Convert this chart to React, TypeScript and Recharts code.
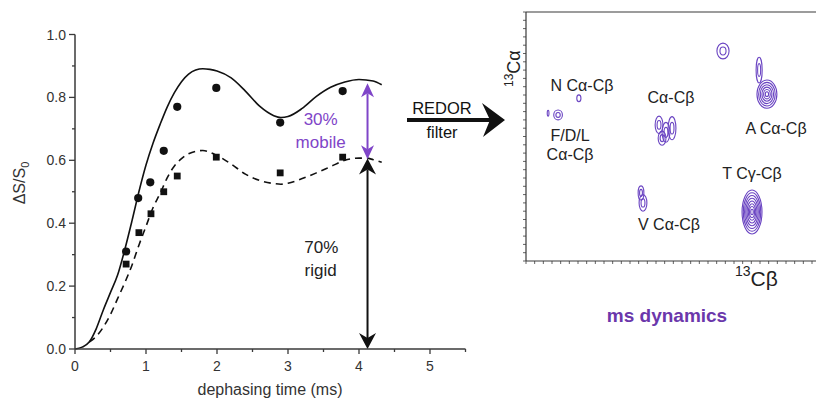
import React from 'react';
import {
  ComposedChart,
  ScatterChart,
  Line,
  Scatter,
  XAxis,
  YAxis,
  ReferenceLine,
  ReferenceDot,
} from 'recharts';

const FONT = "'Liberation Sans', Arial, Helvetica, sans-serif";
const AXIS = '#3a3a3a';
const TEXT = '#222';
const PURPLE = '#7f45c8';
const DEEP_PURPLE = '#6b37ab';
const CONTOUR = '#6a44c2';

// ---------- REDOR build-up data (dephasing time in ms, ΔS/S0) ----------
const solidFit = [
  { x: 0, y: 0 }, { x: 0.1, y: 0.006 }, { x: 0.2, y: 0.022 }, { x: 0.3, y: 0.065 },
  { x: 0.4, y: 0.125 }, { x: 0.5, y: 0.18 }, { x: 0.6, y: 0.235 }, { x: 0.7, y: 0.315 },
  { x: 0.8, y: 0.405 }, { x: 0.9, y: 0.5 }, { x: 1.0, y: 0.585 }, { x: 1.1, y: 0.655 },
  { x: 1.2, y: 0.715 }, { x: 1.3, y: 0.77 }, { x: 1.4, y: 0.815 }, { x: 1.5, y: 0.85 },
  { x: 1.6, y: 0.874 }, { x: 1.7, y: 0.887 }, { x: 1.8, y: 0.891 }, { x: 1.9, y: 0.889 },
  { x: 2.0, y: 0.884 }, { x: 2.2, y: 0.862 }, { x: 2.4, y: 0.82 }, { x: 2.6, y: 0.772 },
  { x: 2.8, y: 0.742 }, { x: 2.9, y: 0.736 }, { x: 3.0, y: 0.739 }, { x: 3.2, y: 0.765 },
  { x: 3.4, y: 0.803 }, { x: 3.6, y: 0.832 }, { x: 3.8, y: 0.849 }, { x: 4.0, y: 0.857 },
  { x: 4.2, y: 0.852 }, { x: 4.32, y: 0.84 },
];

const dashedFit = [
  { x: 0.2, y: 0.022 }, { x: 0.3, y: 0.04 }, { x: 0.4, y: 0.07 }, { x: 0.5, y: 0.11 },
  { x: 0.6, y: 0.16 }, { x: 0.7, y: 0.21 }, { x: 0.8, y: 0.265 }, { x: 0.9, y: 0.33 },
  { x: 1.0, y: 0.39 }, { x: 1.1, y: 0.45 }, { x: 1.2, y: 0.495 }, { x: 1.3, y: 0.545 },
  { x: 1.4, y: 0.582 }, { x: 1.5, y: 0.605 }, { x: 1.6, y: 0.621 }, { x: 1.8, y: 0.631 },
  { x: 2.0, y: 0.615 }, { x: 2.2, y: 0.588 }, { x: 2.4, y: 0.556 }, { x: 2.6, y: 0.536 },
  { x: 2.8, y: 0.526 }, { x: 2.9, y: 0.524 }, { x: 3.0, y: 0.527 }, { x: 3.2, y: 0.542 },
  { x: 3.4, y: 0.56 }, { x: 3.6, y: 0.58 }, { x: 3.8, y: 0.6 }, { x: 4.0, y: 0.607 },
  { x: 4.1, y: 0.607 }, { x: 4.2, y: 0.602 }, { x: 4.32, y: 0.594 },
];

const allSites = [
  { x: 0.72, y: 0.31 }, { x: 0.89, y: 0.48 }, { x: 1.06, y: 0.53 }, { x: 1.25, y: 0.63 },
  { x: 1.44, y: 0.77 }, { x: 1.99, y: 0.83 }, { x: 2.89, y: 0.72 }, { x: 3.77, y: 0.82 },
];

const rigidSites = [
  { x: 0.72, y: 0.27 }, { x: 0.9, y: 0.37 }, { x: 1.07, y: 0.43 }, { x: 1.25, y: 0.5 },
  { x: 1.44, y: 0.55 }, { x: 1.99, y: 0.61 }, { x: 2.89, y: 0.56 }, { x: 3.77, y: 0.61 },
];

const X_TICKS = [0, 0.5, 1, 1.5, 2, 2.5, 3, 3.5, 4, 4.5, 5, 5.5];
const X_LABELS = [0, 1, 2, 3, 4, 5];
const Y_TICKS = [0, 0.1, 0.2, 0.3, 0.4, 0.5, 0.6, 0.7, 0.8, 0.9, 1.0];
const Y_LABELS = [0, 0.2, 0.4, 0.6, 0.8, 1.0];

const arrows = [
  { x: 4.12, from: 0.603, to: 0.845, kind: 'mobile' },
  { x: 4.12, from: 0.0, to: 0.606, kind: 'rigid' },
];

const notes = [
  { x: 3.46, y: 0.73, text: '30%', kind: 'mobile' },
  { x: 3.46, y: 0.657, text: 'mobile', kind: 'mobile' },
  { x: 3.47, y: 0.324, text: '70%', kind: 'rigid' },
  { x: 3.46, y: 0.25, text: 'rigid', kind: 'rigid' },
];

// ---------- 2D spectrum (arbitrary chemical-shift units) ----------
const NMR_X_TICKS = Array.from({ length: 37 }, (_, i) => i);
const NMR_Y_TICKS = Array.from({ length: 31 }, (_, i) => i);

const nmrPeaks = [
  { x: 22.73, y: 25.3, w: 0.7, h: 0.95, levels: 2 },
  { x: 27.8, y: 20.1, w: 1.15, h: 1.7, levels: 6 },
  { x: 26.9, y: 23.0, w: 0.35, h: 1.55, levels: 2 },
  { x: 6.1, y: 19.6, w: 0.24, h: 0.42, levels: 1 },
  { x: 3.7, y: 17.6, w: 0.5, h: 0.6, levels: 2 },
  { x: 2.55, y: 17.8, w: 0.1, h: 0.35, levels: 1 },
  { x: 15.35, y: 16.4, w: 0.45, h: 1.05, levels: 2 },
  { x: 16.15, y: 15.5, w: 0.45, h: 1.2, levels: 2 },
  { x: 16.85, y: 16.0, w: 0.45, h: 1.4, levels: 2 },
  { x: 15.7, y: 14.8, w: 0.45, h: 0.85, levels: 2 },
  { x: 13.27, y: 8.2, w: 0.33, h: 0.85, levels: 2 },
  { x: 13.5, y: 7.0, w: 0.45, h: 1.0, levels: 2 },
  { x: 26.08, y: 5.9, w: 1.15, h: 2.65, levels: 8 },
];

const nmrLabels = [
  { x: 6.46, y: 21.2, text: 'N Cα-Cβ' },
  { x: 5.08, y: 15.18, text: 'F/D/L' },
  { x: 5.08, y: 12.89, text: 'Cα-Cβ' },
  { x: 16.73, y: 19.64, text: 'Cα-Cβ' },
  { x: 28.85, y: 16.02, text: 'A Cα-Cβ' },
  { x: 26.08, y: 10.6, text: 'T Cγ-Cβ' },
  { x: 16.5, y: 4.34, text: 'V Cα-Cβ' },
];

// ---------- layout ----------
const MAIN_W = 480;
const MAIN_H = 399;
const MAIN_MARGIN = { top: 34.5, right: 14.5, bottom: 0, left: 0 };

const NMR_W = 850;
const NMR_H = 300;
const NMR_MARGIN = { top: 0, right: 12, bottom: 0, left: 496 };
const NMR_YAXIS_W = 30;
const NMR_TOP_H = 12;
const NMR_BOTTOM_H = 39;
const NMR_X_DOMAIN = [0, 36];
const NMR_Y_DOMAIN = [0, 30];
const PX_X =
  (NMR_W - NMR_MARGIN.left - NMR_MARGIN.right - NMR_YAXIS_W) / (NMR_X_DOMAIN[1] - NMR_X_DOMAIN[0]);
const PX_Y = (NMR_H - NMR_TOP_H - NMR_BOTTOM_H) / (NMR_Y_DOMAIN[1] - NMR_Y_DOMAIN[0]);

// ---------- renderers ----------
const MainXTick = (props: any) => {
  const { x, y, payload } = props;
  const v = payload.value;
  const major = X_LABELS.some((m) => Math.abs(m - v) < 1e-9);
  return (
    <g>
      <line x1={x} y1={y} x2={x} y2={y + (major ? 5 : 3)} stroke={AXIS} strokeWidth={1.3} />
      {major && (
        <text x={x} y={y + 22} textAnchor="middle" fontSize={14} fill="#333" fontFamily={FONT}>
          {v}
        </text>
      )}
    </g>
  );
};

const MainYTick = (props: any) => {
  const { x, y, payload } = props;
  const v = payload.value;
  const major = Y_LABELS.some((m) => Math.abs(m - v) < 1e-9);
  return (
    <g>
      <line x1={x - (major ? 6 : 3)} y1={y} x2={x} y2={y} stroke={AXIS} strokeWidth={1.3} />
      {major && (
        <text x={x - 9} y={y + 5} textAnchor="end" fontSize={14} fill="#333" fontFamily={FONT}>
          {v.toFixed(1)}
        </text>
      )}
    </g>
  );
};

const headPoints = (tx: number, ty: number, dir: number, L: number, W: number, N: number) => {
  // dir = +1 pointing down, -1 pointing up
  const by = ty - dir * L;
  const ny = ty - dir * (L - N);
  return `${tx},${ty} ${tx - W},${by} ${tx},${ny} ${tx + W},${by}`;
};

const makeArrowShape = (kind: string) => (p: any) => {
  const { x1, y1, x2, y2 } = p;
  const color = kind === 'mobile' ? PURPLE : '#111';
  const L = kind === 'mobile' ? 14 : 16;
  const W = kind === 'mobile' ? 6.5 : 8.5;
  const N = kind === 'mobile' ? 4 : 5;
  const top = Math.min(y1, y2);
  const bot = Math.max(y1, y2);
  const x = x1;
  return (
    <g>
      <line x1={x} y1={top + L - N} x2={x2} y2={bot - (L - N)} stroke={color} strokeWidth={2} />
      <polygon points={headPoints(x, top, -1, L, W, N)} fill={color} />
      <polygon points={headPoints(x, bot, 1, L, W, N)} fill={color} />
    </g>
  );
};

const Contour = (props: any) => {
  const { cx, cy, payload } = props;
  if (cx == null || cy == null) return <g />;
  const rx = payload.w * PX_X;
  const ry = payload.h * PX_Y;
  const n = payload.levels;
  return (
    <g>
      {Array.from({ length: n }, (_, i) => {
        const k = (n - i) / n;
        return (
          <ellipse
            key={i}
            cx={cx}
            cy={cy}
            rx={Math.max(rx * k, 0.8)}
            ry={Math.max(ry * k, 1)}
            fill="none"
            stroke={CONTOUR}
            strokeWidth={1.1}
          />
        );
      })}
    </g>
  );
};

const BoxTick = (orient: 'bottom' | 'top' | 'left') => (props: any) => {
  const { x, y } = props;
  if (orient === 'bottom') return <line x1={x} y1={y} x2={x} y2={y + 3} stroke={AXIS} strokeWidth={0.8} />;
  if (orient === 'top') return <line x1={x} y1={y} x2={x} y2={y + 2.5} stroke={AXIS} strokeWidth={0.8} />;
  return <line x1={x - 3} y1={y} x2={x} y2={y} stroke={AXIS} strokeWidth={0.8} />;
};

export default function App() {
  return (
    <div
      style={{
        position: 'absolute',
        left: 0,
        top: 0,
        width: 816,
        height: 399,
        overflow: 'hidden',
        background: '#fff',
        fontFamily: FONT,
      }}
    >
      <div style={{ position: 'absolute', left: 0, top: 0 }}>
        <ComposedChart width={MAIN_W} height={MAIN_H} margin={MAIN_MARGIN}>
          <XAxis
            type="number"
            dataKey="x"
            domain={[0, 5.5]}
            ticks={X_TICKS}
            interval={0}
            tickSize={0}
            tickMargin={0}
            tickLine={false}
            tick={MainXTick}
            axisLine={{ stroke: AXIS, strokeWidth: 1.5 }}
            height={50}
          />
          <YAxis
            type="number"
            dataKey="y"
            domain={[0, 1]}
            ticks={Y_TICKS}
            interval={0}
            tickSize={0}
            tickMargin={0}
            tickLine={false}
            tick={MainYTick}
            axisLine={{ stroke: AXIS, strokeWidth: 1.5 }}
            width={75}
          />
          <Line
            data={solidFit}
            dataKey="y"
            type="monotone"
            stroke="#111"
            strokeWidth={1.6}
            dot={false}
            activeDot={false}
            isAnimationActive={false}
          />
          <Line
            data={dashedFit}
            dataKey="y"
            type="monotone"
            stroke="#111"
            strokeWidth={1.6}
            strokeDasharray="7 5"
            dot={false}
            activeDot={false}
            isAnimationActive={false}
          />
          <Scatter
            data={allSites}
            dataKey="y"
            isAnimationActive={false}
            shape={(p: any) => <circle cx={p.cx} cy={p.cy} r={4.1} fill="#111" />}
          />
          <Scatter
            data={rigidSites}
            dataKey="y"
            isAnimationActive={false}
            shape={(p: any) => <rect x={p.cx - 3.4} y={p.cy - 3.4} width={6.8} height={6.8} fill="#111" />}
          />
          {arrows.map((a, i) => (
            <ReferenceLine
              key={'ar' + i}
              segment={[
                { x: a.x, y: a.from },
                { x: a.x, y: a.to },
              ]}
              ifOverflow="visible"
              shape={makeArrowShape(a.kind)}
            />
          ))}
          {notes.map((n, i) => (
            <ReferenceDot
              key={'nt' + i}
              x={n.x}
              y={n.y}
              r={0}
              ifOverflow="visible"
              shape={(p: any) => (
                <text
                  x={p.cx}
                  y={p.cy}
                  textAnchor="middle"
                  dominantBaseline="central"
                  fontSize={17}
                  fill={n.kind === 'mobile' ? PURPLE : '#222'}
                  fontFamily={FONT}
                >
                  {n.text}
                </text>
              )}
            />
          ))}
        </ComposedChart>
      </div>

      <div style={{ position: 'absolute', left: 0, top: 0 }}>
        <ScatterChart width={NMR_W} height={NMR_H} margin={NMR_MARGIN}>
          <XAxis
            xAxisId="b"
            type="number"
            dataKey="x"
            orientation="bottom"
            domain={NMR_X_DOMAIN}
            ticks={NMR_X_TICKS}
            interval={0}
            tickSize={0}
            tickMargin={0}
            tickLine={false}
            tick={BoxTick('bottom')}
            axisLine={{ stroke: AXIS, strokeWidth: 1.2 }}
            height={NMR_BOTTOM_H}
          />
          <XAxis
            xAxisId="t"
            type="number"
            orientation="top"
            domain={NMR_X_DOMAIN}
            ticks={NMR_X_TICKS}
            interval={0}
            tickSize={0}
            tickMargin={0}
            tickLine={false}
            tick={BoxTick('top')}
            axisLine={{ stroke: AXIS, strokeWidth: 1.2 }}
            height={NMR_TOP_H}
          />
          <YAxis
            yAxisId="l"
            type="number"
            dataKey="y"
            domain={NMR_Y_DOMAIN}
            ticks={NMR_Y_TICKS}
            interval={0}
            tickSize={0}
            tickMargin={0}
            tickLine={false}
            tick={BoxTick('left')}
            axisLine={{ stroke: AXIS, strokeWidth: 1.2 }}
            width={NMR_YAXIS_W}
          />
          <Scatter
            xAxisId="b"
            yAxisId="l"
            data={nmrPeaks}
            dataKey="y"
            isAnimationActive={false}
            shape={Contour}
          />
          {nmrLabels.map((l, i) => (
            <ReferenceDot
              key={'nl' + i}
              xAxisId="b"
              yAxisId="l"
              x={l.x}
              y={l.y}
              r={0}
              ifOverflow="visible"
              shape={(p: any) => (
                <text
                  x={p.cx}
                  y={p.cy}
                  textAnchor="middle"
                  dominantBaseline="central"
                  fontSize={16}
                  fill={TEXT}
                  fontFamily={FONT}
                >
                  {l.text}
                </text>
              )}
            />
          ))}
        </ScatterChart>
      </div>

      <svg
        width={816}
        height={399}
        style={{ position: 'absolute', left: 0, top: 0, pointerEvents: 'none' }}
        fontFamily={FONT}
      >
        <text x={25} y={183} transform="rotate(-90 25 183)" textAnchor="middle" fontSize={16} fill="#333">
          ΔS/S
          <tspan fontSize={11} dy={4}>
            0
          </tspan>
        </text>
        <text x={270} y={395} textAnchor="middle" fontSize={16} fill="#333">
          dephasing time (ms)
        </text>

        <text x={442} y={114} textAnchor="middle" fontSize={16.5} fill="#111">
          REDOR
        </text>
        <text x={442} y={138} textAnchor="middle" fontSize={16.5} fill="#111">
          filter
        </text>
        <line x1={407} y1={120} x2={490} y2={120} stroke="#111" strokeWidth={4} />
        <polygon points="505,120 482,103 490,120 483,137" fill="#111" />

        <text transform="translate(520 87) rotate(-90)" fontSize={18} fill="#222">
          <tspan fontSize={12} dy={-7}>
            13
          </tspan>
          <tspan dy={7}>Cα</tspan>
        </text>
        <text x={735} y={286} fontSize={21} fill="#222">
          <tspan fontSize={14} dy={-10}>
            13
          </tspan>
          <tspan dy={10}>Cβ</tspan>
        </text>

        <text x={667} y={322} textAnchor="middle" fontSize={19} fontWeight="bold" fill={DEEP_PURPLE}>
          ms dynamics
        </text>
      </svg>
    </div>
  );
}
